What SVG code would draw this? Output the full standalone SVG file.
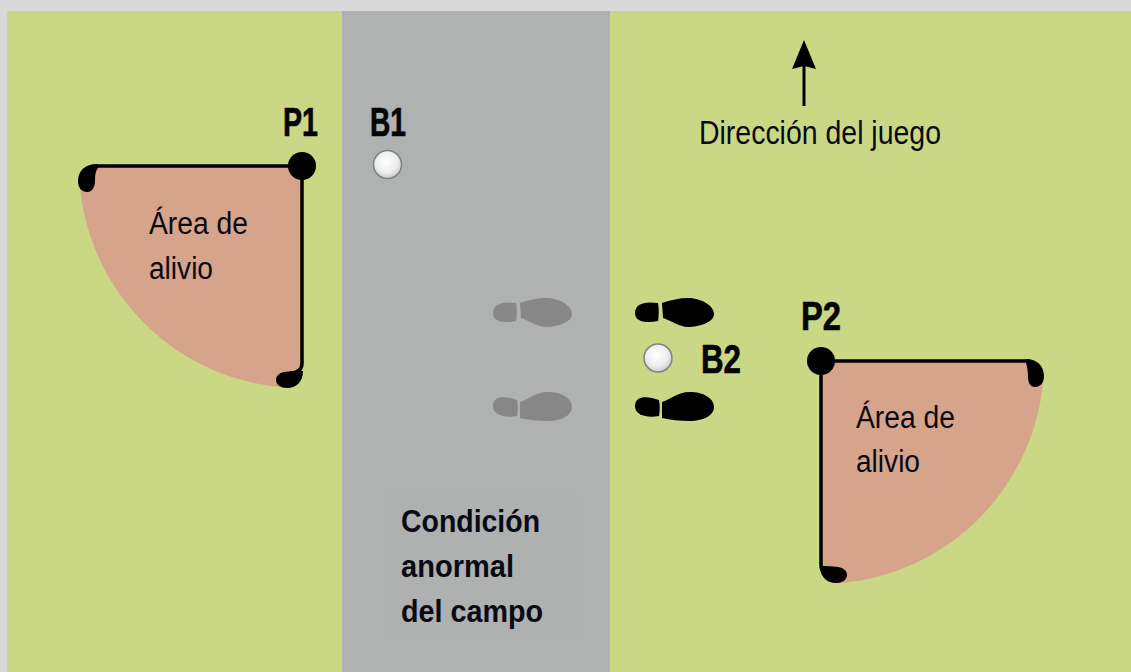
<svg xmlns="http://www.w3.org/2000/svg" width="1131" height="672" viewBox="0 0 1131 672">
<defs>
<style>
.lbl{font-family:"Liberation Sans",Arial,sans-serif;font-size:31px;fill:#0a0a14}
.dir{font-size:33px}
.bold{font-weight:700;font-size:32px}
.tag{font-family:"Liberation Sans Narrow","Liberation Sans",Arial,sans-serif;font-weight:700;font-size:40px;fill:#050505;stroke:#050505;stroke-width:.7px}
.edge{fill:none;stroke:#000;stroke-width:3.500}
.area{fill:#d6a48a}
</style>
<radialGradient id="ball" cx="0.45" cy="0.4" r="0.65">
<stop offset="0" stop-color="#ffffff"/><stop offset="0.6" stop-color="#eceded"/><stop offset="1" stop-color="#c4c6c6"/>
</radialGradient>
<g id="shoeA">
<path d="M658 303C644 301 635 304 635 313C635 323 648 323 658 321C659 315 659 309 658 303Z"/>
<path d="M662 303C670 300 680 298 688 298C700 298 714 305 714 314C714 322 700 327 688 327C680 327 672 321 663 318Z"/>
</g>
<g id="shoeB">
<path d="M659 400C648 396 635 395 635 406C635 416 648 418 659 416C660 411 660 405 659 400Z"/>
<path d="M662 402C670 400 677 392 690 392C703 392 714 398 714 407C714 416 702 421 690 421C680 421 670 420 662 418Z"/>
</g>
</defs>
<rect width="1131" height="672" fill="#d9d9d9"/>
<rect x="7" y="11" width="1124" height="661" fill="#cad886"/>
<rect x="342" y="11" width="268" height="661" fill="#b0b2b1"/>
<rect x="385" y="492" width="193" height="148" fill="#afb0b0"/>

<g id="area-p1">
<path class="area" d="M301 166L92 166L79.400 180A222 222 0 0 0 285 387.400L301 375Z"/>
<path class="edge" d="M302 166V363Q302 373 290 373"/>
<path class="edge" d="M301 166H97Q88 166 86 176"/>
<path d="M97 164C85 164 78 171 78 181C78 188 82 192 87 192C93 192 95 186 95 180C95 174 96 170 98 168Z"/>
<path d="M303 371C296 371 289 371 284 372C279 373 276 376 276 380C276 385 281 388 287 388C297 388 303 381 303 371Z"/>
<circle cx="302" cy="166" r="14"/>
<text class="tag" x="283" y="136" textLength="35" lengthAdjust="spacingAndGlyphs">P1</text>
<text class="lbl" x="149" y="234" textLength="99" lengthAdjust="spacingAndGlyphs">Área de</text>
<text class="lbl" x="149" y="279" textLength="64" lengthAdjust="spacingAndGlyphs">alivio</text>
</g>

<g id="area-p2">
<path class="area" d="M821 361L1030 361L1043.600 375A223 223 0 0 1 838 583.400L821 570Z"/>
<path class="edge" d="M821 361V565Q821 575 833 575"/>
<path class="edge" d="M821 361H1026Q1035 361 1037 372"/>
<path d="M1026 359C1037 359 1044 366 1044 376C1044 383 1040 387 1035 387C1030 387 1028 382 1028 377C1028 371 1027 366 1026 363Z"/>
<path d="M820 566C826 566 833 566 838 567C844 568 847 571 847 575C847 580 842 583 836 583C826 583 820 576 820 566Z"/>
<circle cx="821" cy="361" r="14"/>
<text class="tag" x="801" y="330" textLength="40" lengthAdjust="spacingAndGlyphs">P2</text>
<text class="lbl" x="856" y="428" textLength="99" lengthAdjust="spacingAndGlyphs">Área de</text>
<text class="lbl" x="856" y="472" textLength="64" lengthAdjust="spacingAndGlyphs">alivio</text>
</g>

<g id="ball-b1">
<circle cx="387.500" cy="164.500" r="14" fill="url(#ball)" stroke="#7f8080" stroke-width="1.500"/>
<text class="tag" x="370" y="136" textLength="36" lengthAdjust="spacingAndGlyphs">B1</text>
</g>

<g id="ball-b2">
<circle cx="658" cy="358" r="14" fill="url(#ball)" stroke="#7f8080" stroke-width="1.500"/>
<text class="tag" x="701" y="373" textLength="40" lengthAdjust="spacingAndGlyphs">B2</text>
</g>

<g id="footprints-black" fill="#000">
<use href="#shoeA"/>
<use href="#shoeB"/>
</g>
<g id="footprints-grey" fill="#868786">
<use href="#shoeA" x="-142"/>
<use href="#shoeB" x="-142"/>
</g>

<g id="condition">
<text class="lbl bold" x="401" y="532" textLength="139" lengthAdjust="spacingAndGlyphs">Condición</text>
<text class="lbl bold" x="401" y="577" textLength="113" lengthAdjust="spacingAndGlyphs">anormal</text>
<text class="lbl bold" x="401" y="622" textLength="142" lengthAdjust="spacingAndGlyphs">del campo</text>
</g>

<g id="direction">
<text class="lbl dir" x="699" y="144" textLength="242" lengthAdjust="spacingAndGlyphs">Dirección del juego</text>
</g>

<g id="connectors">
<path d="M804 66V106" fill="none" stroke="#000" stroke-width="3"/>
<path d="M804 40L816 69L804 66L792 69Z" fill="#000"/>
</g>
</svg>
